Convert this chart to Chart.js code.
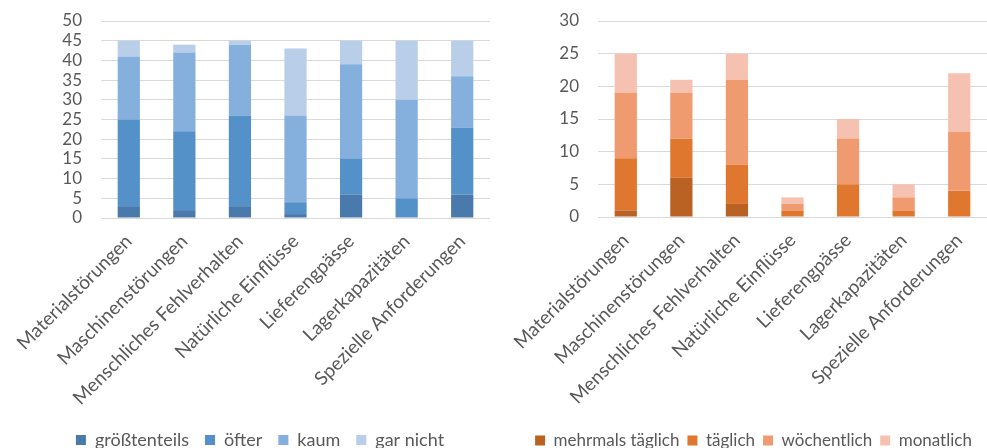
<!DOCTYPE html>
<html>
<head>
<meta charset="utf-8">
<script src="https://cdn.jsdelivr.net/npm/chart.js@4/dist/chart.umd.min.js"></script>
<style>
  html, body { margin: 0; padding: 0; background: #fff; overflow: hidden; }
  #wrap { position: relative; width: 987px; height: 448px; overflow: hidden; }
  .panel { position: absolute; top: 0; }
</style>
</head>
<body>
<div id="wrap">
  <div class="panel" style="left:0"><canvas id="left" width="490" height="459"></canvas></div>
  <div class="panel" style="left:490px"><canvas id="right" width="497" height="459"></canvas></div>
</div>
<script>
// Categories shared by both charts
const categories = [
  'Materialstörungen', 'Maschinenstörungen', 'Menschliches Fehlverhalten',
  'Natürliche Einflüsse', 'Lieferengpässe', 'Lagerkapazitäten', 'Spezielle Anforderungen'
];

// Left chart: share of occurrence
const groesstenteils = [3, 2, 3, 1, 6, 0, 6];
const oefter         = [22, 20, 23, 3, 9, 5, 17];
const kaum           = [16, 20, 18, 22, 24, 25, 13];
const garNicht       = [4, 2, 1, 17, 6, 15, 9];
const leftTicks = { min: 0, max: 50, step: 5 };

// Right chart: frequency
const mehrmalsTaeglich = [1, 6, 2, 0, 0, 0, 0];
const taeglich         = [8, 6, 6, 1, 5, 1, 4];
const woechentlich     = [10, 7, 13, 1, 7, 2, 9];
const monatlich        = [6, 2, 4, 1, 3, 2, 9];
const rightTicks = { min: 0, max: 30, step: 5 };

const FONT = 'Lato, "Open Sans", "DejaVu Sans", sans-serif';
const TEXT = '#595959';
const GRID = '#d9d9d9';

function makeChart(id, series, ticks, opts) {
  return new Chart(document.getElementById(id), {
    type: 'bar',
    data: {
      labels: categories,
      datasets: series.map(s => ({
        label: s.label,
        data: s.data,
        backgroundColor: s.color,
        borderWidth: 0,
        barPercentage: 0.4,
        categoryPercentage: 1.0
      }))
    },
    options: {
      responsive: false,
      animation: false,
      devicePixelRatio: 1,
      layout: { padding: { left: opts.padLeft, right: 0, top: 21, bottom: 0 } },
      plugins: {
        tooltip: { enabled: false },
        legend: {
          position: 'bottom',
          labels: {
            color: TEXT,
            font: { family: FONT, size: opts.legendSize },
            boxWidth: 10,
            boxHeight: 10,
            padding: opts.legendPad
          }
        }
      },
      scales: {
        x: {
          stacked: true,
          grid: { display: false },
          border: { display: false },
          ticks: {
            color: TEXT,
            font: { family: FONT, size: 19 },
            autoSkip: false,
            minRotation: 45,
            maxRotation: 45,
            padding: 4
          },
          afterFit: s => { s.height = opts.xHeight; }
        },
        y: {
          stacked: true,
          min: ticks.min,
          max: ticks.max,
          // invisible tick marks keep the labels clear of the plot area
          grid: { color: GRID, lineWidth: 1, drawTicks: true, tickLength: 19, tickColor: 'rgba(0,0,0,0)' },
          border: { display: false },
          ticks: {
            stepSize: ticks.step,
            autoSkip: false,
            color: TEXT,
            font: { family: FONT, size: 17 },
            padding: 0
          },
          afterFit: s => { s.width = opts.yWidth; }
        }
      }
    }
  });
}

makeChart('left', [
  { label: 'größtenteils', data: groesstenteils, color: '#4a7aab' },
  { label: 'öfter',        data: oefter,         color: '#5591c9' },
  { label: 'kaum',         data: kaum,           color: '#85afdc' },
  { label: 'gar nicht',    data: garNicht,       color: '#b8cee9' }
], leftTicks, { padLeft: 30, yWidth: 71, xHeight: 197, legendPad: 16, legendSize: 18 });

makeChart('right', [
  { label: 'mehrmals täglich', data: mehrmalsTaeglich, color: '#ba6124' },
  { label: 'täglich',          data: taeglich,         color: '#df772f' },
  { label: 'wöchentlich',      data: woechentlich,     color: '#f09a70' },
  { label: 'monatlich',        data: monatlich,        color: '#f5c2b2' }
], rightTicks, { padLeft: 30, yWidth: 78, xHeight: 207, legendPad: 8, legendSize: 17 });
</script>
</body>
</html>
